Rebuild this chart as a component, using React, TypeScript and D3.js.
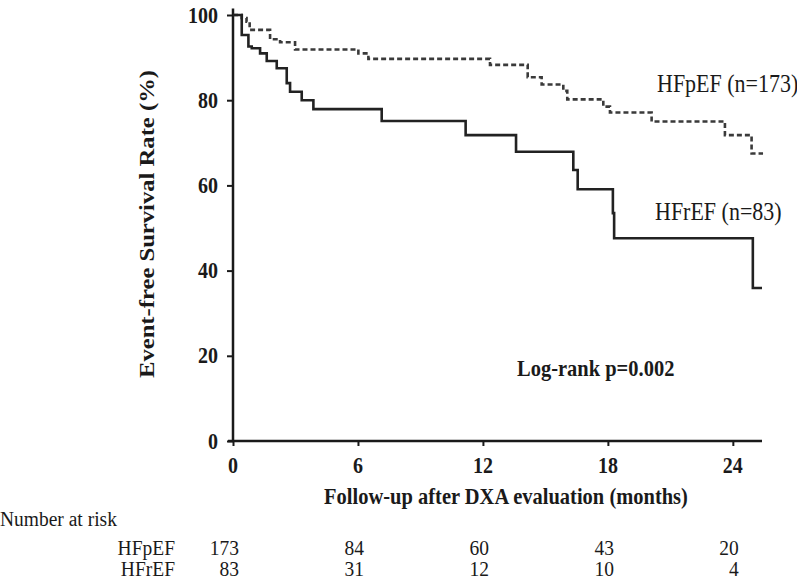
import { useEffect, useRef } from "react"
import * as d3 from "d3"

// Kaplan-Meier steps (months, % event-free)
const hfpefTimes = [0, 0.42, 0.65, 0.8, 1.78, 2.26, 2.98, 6.02, 6.5, 12.34, 14.15, 14.82, 15.86, 16.05, 17.78, 18.1, 20.1, 23.62, 24.9, 25.45]
const hfpefSurv = [100, 99.3, 98.4, 96.5, 94.3, 93.6, 91.9, 91.0, 89.7, 88.3, 85.4, 83.7, 82.2, 80.2, 78.5, 77.1, 75.0, 71.8, 67.5, 67.5]

const hfrefTimes = [0, 0.42, 0.74, 0.9, 1.3, 1.62, 2.1, 2.58, 2.74, 3.3, 3.86, 7.14, 11.17, 13.59, 16.34, 16.55, 18.24, 18.3, 24.96, 25.4]
const hfrefSurv = [100, 95.3, 92.6, 92.2, 91.0, 89.2, 87.5, 84.0, 82.0, 80.0, 77.9, 75.1, 71.8, 67.9, 63.6, 59.1, 53.5, 47.6, 35.9, 35.9]

const xTicks = [0, 6, 12, 18, 24]
const yTicks = [0, 20, 40, 60, 80, 100]

const riskGroups = ["HFpEF", "HFrEF"]
const hfpefRisk = [173, 84, 60, 43, 20]
const hfrefRisk = [83, 31, 12, 10, 4]

const serif = "'Liberation Serif', 'Times New Roman', serif"
const ink = "#1a1a1a"
// the scanned figure is a little taller than wide, so glyphs are stretched
const stretch = 1.12

export default function App() {
  const svgRef = useRef<SVGSVGElement>(null)

  useEffect(() => {
    if (!svgRef.current) return
    const svg = d3.select(svgRef.current)
    svg.selectAll("*").remove()

    const x = d3.scaleLinear().domain([0, 25.4]).range([233, 762])
    const y = d3.scaleLinear().domain([0, 100]).range([441, 15])

    const label = (
      px: number,
      py: number,
      text: string | number,
      size: number,
      bold = false,
      anchor = "start"
    ) =>
      svg
        .append("text")
        .attr("transform", `translate(${px},${py}) scale(1,${stretch})`)
        .attr("text-anchor", anchor)
        .attr("fill", ink)
        .style("font-family", serif)
        .style("font-weight", bold ? "bold" : "normal")
        .style("font-size", `${size}px`)
        .text(text)

    const step = d3
      .line<[number, number]>()
      .x((d) => x(d[0]))
      .y((d) => y(d[1]))
      .curve(d3.curveStepAfter)

    // y axis
    const yAxis = svg
      .append("g")
      .attr("transform", `translate(${x(0)},0)`)
      .call(d3.axisLeft(y).tickValues(yTicks).tickSize(6).tickFormat(() => ""))
    yAxis.select(".domain").attr("d", `M0,${y(101.5)}V${y(0)}`).attr("stroke", ink).attr("stroke-width", 2.5)
    yAxis.selectAll(".tick line").attr("stroke", ink).attr("stroke-width", 2)
    yTicks.forEach((v) => label(218, y(v) + 7.5, v, 20, true, "end"))

    // x axis
    const xAxis = svg
      .append("g")
      .attr("transform", `translate(0,${y(0)})`)
      .call(d3.axisBottom(x).tickValues(xTicks).tickSize(5).tickFormat(() => ""))
    xAxis.select(".domain").attr("d", `M${x(0) - 5},0H${x(25.4)}`).attr("stroke", ink).attr("stroke-width", 2.5)
    xAxis.selectAll(".tick line").attr("stroke", ink).attr("stroke-width", 2)
    xTicks.forEach((t) => label(x(t), 473, t, 20, true, "middle"))

    // curves
    svg
      .append("path")
      .attr("d", step(hfpefTimes.map((t, i) => [t, hfpefSurv[i]] as [number, number])))
      .attr("fill", "none")
      .attr("stroke", "#3a3a3a")
      .attr("stroke-width", 2.6)
      .attr("stroke-dasharray", "5,3")

    svg
      .append("path")
      .attr("d", step(hfrefTimes.map((t, i) => [t, hfrefSurv[i]] as [number, number])))
      .attr("fill", "none")
      .attr("stroke", "#222")
      .attr("stroke-width", 2.6)

    // titles
    svg
      .append("text")
      .attr("transform", "translate(154,224) rotate(-90)")
      .attr("text-anchor", "middle")
      .attr("fill", ink)
      .attr("textLength", 308)
      .attr("lengthAdjust", "spacingAndGlyphs")
      .style("font-family", serif)
      .style("font-weight", "bold")
      .style("font-size", "20.5px")
      .text("Event-free Survival Rate (%)")

    label(506, 504, "Follow-up after DXA evaluation (months)", 20.5, true, "middle")
    label(517, 376, "Log-rank p=0.002", 20.5, true)

    // curve labels
    label(657, 92, "HFpEF (n=173)", 22)
    label(655, 220, "HFrEF (n=83)", 22)

    // number at risk table
    label(0, 526, "Number at risk", 19.5)
    const rows = [hfpefRisk, hfrefRisk]
    const rowY = [555, 576]
    rows.forEach((vals, r) => {
      label(175, rowY[r], riskGroups[r], 19.5, false, "end")
      vals.forEach((v, i) => label(x(xTicks[i]) + 6, rowY[r], v, 19.5, false, "end"))
    })
  }, [])

  return (
    <svg
      ref={svgRef}
      width={797}
      height={580}
      style={{ position: "absolute", left: 0, top: 0, background: "#fff" }}
    ></svg>
  )
}
